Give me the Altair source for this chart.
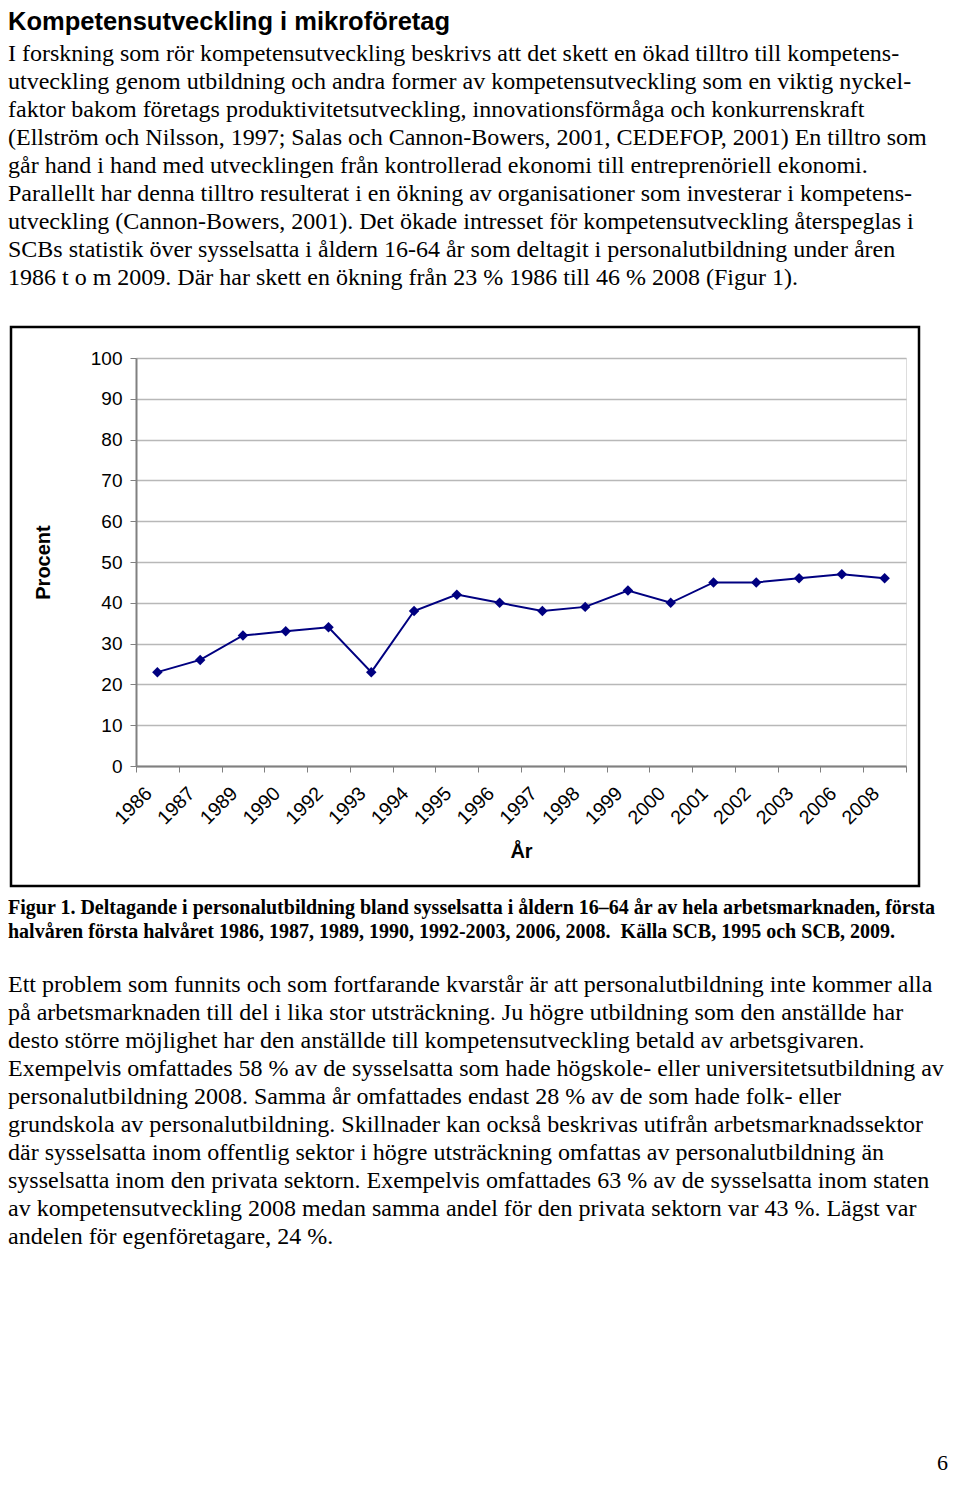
import altair as alt
import pandas as pd

# ---- chart data ----
years = ["1986", "1987", "1989", "1990", "1992", "1993", "1994", "1995", "1996",
         "1997", "1998", "1999", "2000", "2001", "2002", "2003", "2006", "2008"]
percent = [23, 26, 32, 33, 34, 23, 38, 42, 40, 38, 39, 43, 40, 45, 45, 46, 47, 46]
y_ticks = [0, 10, 20, 30, 40, 50, 60, 70, 80, 90, 100]

# ---- page text ----
heading = "Kompetensutveckling i mikroföretag"
intro_lines = [
    "I forskning som rör kompetensutveckling beskrivs att det skett en ökad tilltro till kompetens-",
    "utveckling genom utbildning och andra former av kompetensutveckling som en viktig nyckel-",
    "faktor bakom företags produktivitetsutveckling, innovationsförmåga och konkurrenskraft",
    "(Ellström och Nilsson, 1997; Salas och Cannon-Bowers, 2001, CEDEFOP, 2001) En tilltro som",
    "går hand i hand med utvecklingen från kontrollerad ekonomi till entreprenöriell ekonomi.",
    "Parallellt har denna tilltro resulterat i en ökning av organisationer som investerar i kompetens-",
    "utveckling (Cannon-Bowers, 2001). Det ökade intresset för kompetensutveckling återspeglas i",
    "SCBs statistik över sysselsatta i åldern 16-64 år som deltagit i personalutbildning under åren",
    "1986 t o m 2009. Där har skett en ökning från 23 % 1986 till 46 % 2008 (Figur 1).",
]
caption_lines = [
    "Figur 1. Deltagande i personalutbildning bland sysselsatta i åldern 16–64 år av hela arbetsmarknaden, första",
    "halvåren första halvåret 1986, 1987, 1989, 1990, 1992-2003, 2006, 2008.\u00a0 Källa SCB, 1995 och SCB, 2009.",
]
body_lines = [
    "Ett problem som funnits och som fortfarande kvarstår är att personalutbildning inte kommer alla",
    "på arbetsmarknaden till del i lika stor utsträckning. Ju högre utbildning som den anställde har",
    "desto större möjlighet har den anställde till kompetensutveckling betald av arbetsgivaren.",
    "Exempelvis omfattades 58 % av de sysselsatta som hade högskole- eller universitetsutbildning av",
    "personalutbildning 2008. Samma år omfattades endast 28 % av de som hade folk- eller",
    "grundskola av personalutbildning. Skillnader kan också beskrivas utifrån arbetsmarknadssektor",
    "där sysselsatta inom offentlig sektor i högre utsträckning omfattas av personalutbildning än",
    "sysselsatta inom den privata sektorn. Exempelvis omfattades 63 % av de sysselsatta inom staten",
    "av kompetensutveckling 2008 medan samma andel för den privata sektorn var 43 %. Lägst var",
    "andelen för egenföretagare, 24 %.",
]
page_number = "6"

df = pd.DataFrame({"År": years, "Procent": percent})

W, H = 770, 408
NAVY = "#000080"
SANS = "Liberation Sans"
SERIF = "Liberation Serif"

x_enc = alt.X(
    "År:O", sort=years,
    scale=alt.Scale(type="band", paddingInner=0, paddingOuter=0),
    axis=alt.Axis(
        title="År", labelAngle=-45, labelAlign="right", labelBaseline="middle",
        labelFont=SANS, labelFontSize=19.5, labelColor="black",
        labelPadding=18, labelOffset=-9, tickBand="extent", tickSize=6,
        tickColor="#808080", domainColor="#808080", domainWidth=2, grid=False,
        titleFont=SANS, titleFontSize=20, titleFontWeight="bold", titleColor="black",
        titleY=85, titleBaseline="middle",
    ),
)
y_enc = alt.Y(
    "Procent:Q",
    scale=alt.Scale(domain=[0, 100], nice=False),
    axis=alt.Axis(
        values=y_ticks, title="Procent", titleX=-93, titleY=H / 2, titleAngle=-90,
        titleAlign="center", titleBaseline="middle", titleFont=SANS,
        titleFontSize=20, titleFontWeight="bold", titleColor="black",
        labelFont=SANS, labelFontSize=19, labelColor="black", labelPadding=8,
        tickSize=6, tickColor="#808080", domainColor="#808080", domainWidth=2,
        grid=True, gridColor="#b8b8b8", gridWidth=1.5,
    ),
)

base = alt.Chart(df)
line = base.mark_line(color=NAVY, strokeWidth=2).encode(x=x_enc, y=y_enc)
points = base.mark_point(shape="diamond", filled=True, size=110, color=NAVY, opacity=1).encode(
    x=alt.X("År:O", sort=years), y="Procent:Q"
)

frame = alt.Chart(pd.DataFrame({"f": [0]})).mark_rect(
    filled=False, stroke="black", strokeWidth=2.5
).encode(x=alt.value(-125), x2=alt.value(783), y=alt.value(-31), y2=alt.value(528))


def text_block(lines, x, y, font, size, weight="normal", lh=28, align="left"):
    return alt.Chart(pd.DataFrame({"t": ["\n".join(lines)]})).mark_text(
        align=align, baseline="alphabetic", font=font, fontSize=size,
        fontWeight=weight, lineBreak="\n", lineHeight=lh, color="black",
    ).encode(x=alt.value(x), y=alt.value(y), text="t:N")


head_t = text_block([heading], -128, -328, SANS, 25.5, "bold")
intro_t = text_block(intro_lines, -128, -297, SERIF, 24)
cap_t = text_block(caption_lines, -128, 556, SERIF, 20, "bold", lh=23.5)
body_t = text_block(body_lines, -128, 634, SERIF, 24)
page_t = text_block([page_number], 812, 1112, SERIF, 22, align="right")

chart = alt.layer(frame, line, points, head_t, intro_t, cap_t, body_t, page_t).properties(
    width=W, height=H,
    autosize=alt.AutoSizeParams(type="none"),
    padding={"left": 128, "top": 350, "right": 46, "bottom": 1470 - 350 - H},
).configure_view(stroke="#909090", strokeWidth=2).configure(background="white")

chart.save("out.html", embed_options={"renderer": "svg", "actions": False})
